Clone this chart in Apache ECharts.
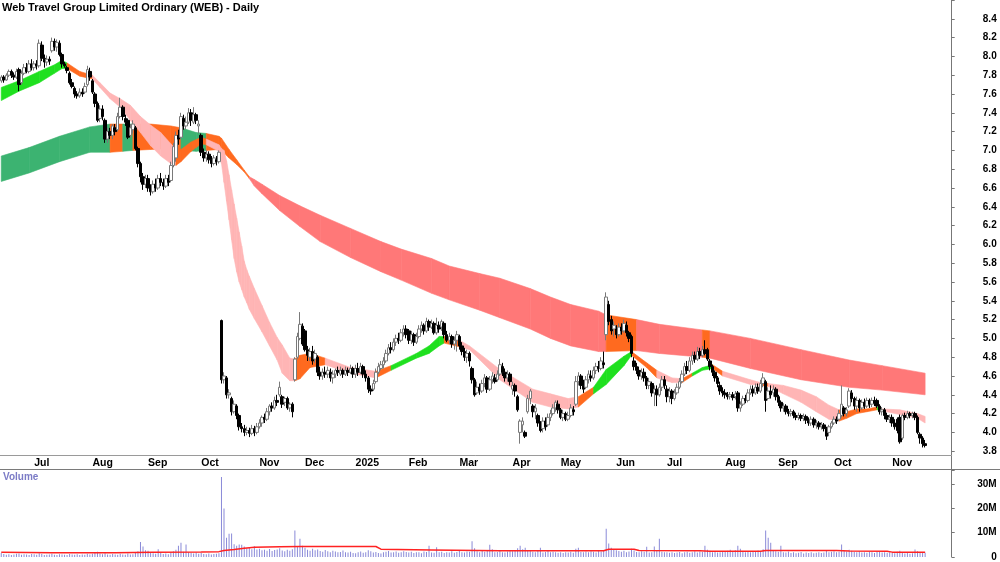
<!DOCTYPE html>
<html>
<head>
<meta charset="utf-8">
<title>WEB - Daily</title>
<script src="https://cdn.jsdelivr.net/npm/echarts@6.0.0/dist/echarts.min.js"></script>
<style>
  html, body { margin: 0; padding: 0; background: #fff; }
  #chart { width: 1000px; height: 562px; }
</style>
</head>
<body>
<div id="chart"></div>
<script>
// trading days per month, first month only partly shown
const monthLabels = ['Jun', 'Jul', 'Aug', 'Sep', 'Oct', 'Nov', 'Dec', '2025', 'Feb', 'Mar', 'Apr', 'May', 'Jun', 'Jul', 'Aug', 'Sep', 'Oct', 'Nov'];
const monthDays = [13, 23, 22, 21, 23, 18, 20, 21, 20, 21, 19, 22, 20, 23, 21, 22, 23, 14];
const padDays = 10;

// [open, close, low, high]
const candles = [
  // Jun 2024
  [7.74,7.78,7.72,7.80],[7.78,7.75,7.72,7.80],[7.75,7.80,7.74,7.82],[7.80,7.84,7.78,7.86],[7.84,7.80,7.77,7.86],[7.80,7.78,7.75,7.83],[7.78,7.84,7.76,7.87],[7.86,7.70,7.63,7.88],[7.72,7.82,7.70,7.85],[7.82,7.88,7.80,7.92],[7.88,7.84,7.82,7.93],[7.84,7.92,7.82,7.96],[7.92,7.88,7.85,7.97],
  // Jul
  [7.88,7.92,7.85,7.95],[7.92,7.90,7.86,7.96],[7.90,8.14,7.88,8.18],[8.12,7.98,7.95,8.16],[7.98,7.94,7.88,8.02],[7.94,7.97,7.90,8.01],[7.97,7.95,7.91,8.00],[8.06,8.16,8.04,8.20],[8.16,8.10,8.06,8.19],[8.10,8.15,8.05,8.18],[8.14,8.02,8.00,8.17],[8.02,7.92,7.88,8.04],[7.92,7.90,7.88,7.94],[7.88,7.85,7.82,7.90],[7.82,7.72,7.70,7.84],[7.72,7.68,7.66,7.76],[7.66,7.60,7.56,7.68],[7.60,7.58,7.55,7.63],[7.58,7.62,7.56,7.66],[7.62,7.60,7.57,7.66],[7.62,7.68,7.60,7.72],[7.70,7.86,7.68,7.90],[7.84,7.78,7.74,7.88],
  // Aug
  [7.74,7.62,7.60,7.76],[7.60,7.50,7.46,7.62],[7.50,7.32,7.30,7.52],[7.34,7.44,7.30,7.48],[7.44,7.36,7.32,7.48],[7.32,7.12,7.08,7.34],[7.12,7.20,7.08,7.24],[7.20,7.16,7.12,7.24],[7.16,7.26,7.12,7.28],[7.24,7.20,7.16,7.28],[7.22,7.36,7.20,7.40],[7.36,7.46,7.34,7.56],[7.46,7.36,7.32,7.48],[7.34,7.30,7.26,7.38],[7.32,7.14,7.12,7.34],[7.16,7.24,7.14,7.28],[7.22,7.28,7.18,7.32],[7.24,7.02,7.00,7.26],[7.02,6.86,6.82,7.04],[6.86,6.72,6.66,6.88],[6.72,6.64,6.58,6.76],[6.64,6.70,6.60,6.74],
  // Sep
  [6.70,6.60,6.56,6.74],[6.60,6.56,6.52,6.64],[6.56,6.64,6.54,6.68],[6.64,6.60,6.56,6.70],[6.60,6.70,6.58,6.74],[6.70,6.66,6.62,6.76],[6.66,6.62,6.58,6.70],[6.62,6.70,6.60,6.74],[6.70,6.66,6.62,6.74],[6.68,6.84,6.66,6.88],[6.84,7.04,6.82,7.08],[6.92,7.16,6.88,7.20],[7.16,7.12,7.06,7.22],[7.14,7.36,7.12,7.40],[7.34,7.26,7.22,7.38],[7.26,7.30,7.22,7.36],[7.30,7.40,7.28,7.45],[7.40,7.32,7.26,7.44],[7.30,7.38,7.28,7.46],[7.38,7.32,7.28,7.40],[7.26,7.28,7.18,7.32],
  // Oct
  [7.16,6.98,6.94,7.18],[6.98,6.92,6.88,7.02],[6.92,6.96,6.88,7.00],[6.96,6.90,6.86,6.99],[6.90,6.86,6.82,6.94],[6.86,6.92,6.84,6.95],[6.90,6.88,6.84,6.94],[6.88,6.98,6.86,7.00],[5.19,4.56,4.52,5.20],[4.56,4.60,4.52,4.64],[4.58,4.40,4.36,4.60],[4.40,4.42,4.36,4.46],[4.36,4.22,4.18,4.38],[4.22,4.30,4.20,4.34],[4.28,4.18,4.14,4.30],[4.18,4.06,4.02,4.20],[4.06,4.04,4.00,4.10],[4.04,4.00,3.96,4.08],[4.00,4.02,3.97,4.06],[4.02,3.99,3.95,4.05],[3.99,4.04,3.97,4.08],[4.04,4.00,3.96,4.07],[4.00,4.06,3.98,4.10],
  // Nov
  [4.06,4.10,4.04,4.14],[4.10,4.16,4.06,4.18],[4.16,4.14,4.10,4.20],[4.14,4.22,4.12,4.26],[4.22,4.28,4.18,4.30],[4.28,4.26,4.22,4.32],[4.26,4.34,4.24,4.38],[4.34,4.32,4.28,4.40],[4.40,4.48,4.38,4.54],[4.38,4.30,4.26,4.40],[4.32,4.36,4.28,4.38],[4.36,4.26,4.24,4.38],[4.26,4.30,4.22,4.32],[4.30,4.22,4.16,4.32],[4.56,4.78,4.54,4.80],[4.80,5.02,4.78,5.06],[5.00,5.15,4.98,5.28],[5.13,4.94,4.92,5.16],
  // Dec
  [5.08,4.88,4.86,5.10],[4.88,4.82,4.76,4.92],[4.80,4.86,4.76,4.90],[4.86,4.76,4.72,4.92],[4.78,4.84,4.74,4.88],[4.80,4.64,4.60,4.82],[4.64,4.60,4.56,4.70],[4.60,4.64,4.56,4.68],[4.64,4.62,4.58,4.70],[4.62,4.66,4.58,4.70],[4.64,4.58,4.54,4.68],[4.58,4.62,4.52,4.66],[4.62,4.66,4.58,4.68],[4.66,4.64,4.60,4.70],[4.62,4.66,4.60,4.70],[4.66,4.62,4.58,4.68],[4.62,4.66,4.60,4.70],[4.66,4.64,4.60,4.69],[4.64,4.68,4.62,4.72],[4.68,4.62,4.58,4.70],
  // Jan 2025
  [4.62,4.68,4.58,4.72],[4.68,4.64,4.60,4.74],[4.64,4.70,4.62,4.74],[4.70,4.62,4.58,4.72],[4.62,4.58,4.54,4.66],[4.58,4.46,4.42,4.60],[4.46,4.44,4.40,4.50],[4.46,4.52,4.44,4.56],[4.54,4.64,4.52,4.68],[4.64,4.70,4.62,4.74],[4.68,4.72,4.66,4.76],[4.72,4.76,4.68,4.80],[4.76,4.84,4.74,4.88],[4.84,4.90,4.82,4.94],[4.90,4.88,4.84,4.96],[4.88,4.96,4.86,5.00],[4.96,5.00,4.92,5.04],[5.00,4.98,4.94,5.06],[4.98,5.06,4.96,5.10],[5.06,5.10,5.02,5.14],[5.10,5.04,5.00,5.14],
  // Feb
  [5.08,4.98,4.94,5.10],[4.98,5.04,4.94,5.08],[5.04,4.96,4.92,5.06],[4.96,5.02,4.94,5.06],[5.02,5.10,5.00,5.14],[5.10,5.14,5.06,5.18],[5.14,5.08,5.04,5.16],[5.08,5.18,5.06,5.22],[5.18,5.12,5.08,5.20],[5.12,5.16,5.10,5.20],[5.16,5.06,5.04,5.18],[5.06,5.14,5.04,5.22],[5.14,5.10,5.06,5.18],[5.12,5.18,5.08,5.20],[5.16,5.04,5.00,5.18],[5.04,4.98,4.96,5.08],[4.98,5.02,4.94,5.06],[5.02,4.94,4.90,5.04],[4.94,4.98,4.88,5.02],[4.98,5.04,4.86,5.08],
  // Mar
  [5.02,4.92,4.88,5.04],[4.92,4.86,4.82,4.96],[4.86,4.80,4.76,4.90],[4.80,4.84,4.74,4.88],[4.84,4.76,4.70,4.86],[4.68,4.56,4.52,4.70],[4.56,4.40,4.38,4.58],[4.42,4.48,4.40,4.54],[4.48,4.44,4.40,4.52],[4.44,4.52,4.42,4.56],[4.52,4.58,4.48,4.62],[4.58,4.46,4.42,4.60],[4.46,4.56,4.44,4.60],[4.56,4.60,4.52,4.64],[4.58,4.54,4.52,4.62],[4.56,4.62,4.54,4.66],[4.62,4.72,4.60,4.78],[4.70,4.64,4.60,4.74],[4.64,4.58,4.54,4.68],[4.58,4.62,4.54,4.66],[4.62,4.54,4.50,4.64],
  // Apr
  [4.46,4.50,4.40,4.54],[4.50,4.44,4.38,4.52],[4.38,4.24,4.22,4.40],[4.00,4.12,3.88,4.14],[4.08,4.12,4.00,4.16],[4.00,3.96,3.94,4.02],[4.22,4.36,4.20,4.40],[4.36,4.44,4.30,4.46],[4.28,4.22,4.16,4.30],[4.22,4.26,4.14,4.30],[4.18,4.10,4.06,4.20],[4.10,4.02,4.00,4.12],[4.04,4.12,4.00,4.16],[4.12,4.06,4.02,4.16],[4.08,4.16,4.06,4.20],[4.16,4.20,4.12,4.24],[4.20,4.26,4.18,4.30],[4.26,4.32,4.22,4.34],[4.30,4.24,4.20,4.34],
  // May
  [4.24,4.16,4.14,4.26],[4.16,4.20,4.12,4.24],[4.20,4.14,4.12,4.22],[4.14,4.18,4.12,4.22],[4.18,4.26,4.16,4.30],[4.24,4.22,4.18,4.28],[4.30,4.54,4.28,4.60],[4.54,4.60,4.50,4.64],[4.60,4.50,4.46,4.62],[4.50,4.46,4.42,4.56],[4.48,4.56,4.46,4.60],[4.56,4.62,4.52,4.66],[4.60,4.58,4.54,4.66],[4.58,4.66,4.56,4.70],[4.66,4.70,4.62,4.74],[4.70,4.68,4.64,4.76],[4.68,4.76,4.66,4.80],[4.74,4.72,4.68,4.86],[5.04,5.44,4.98,5.49],[5.36,5.18,5.14,5.40],[5.20,5.08,5.04,5.24],[5.10,5.14,5.02,5.18],
  // Jun
  [5.10,5.04,5.00,5.14],[5.04,5.12,5.02,5.16],[5.12,5.08,5.04,5.16],[5.08,5.16,5.06,5.20],[5.14,5.06,5.02,5.18],[5.06,5.00,4.96,5.08],[5.02,4.84,4.80,5.04],[4.76,4.70,4.66,4.80],[4.70,4.66,4.62,4.74],[4.66,4.60,4.56,4.70],[4.60,4.64,4.56,4.68],[4.64,4.58,4.54,4.68],[4.58,4.50,4.46,4.60],[4.50,4.54,4.46,4.58],[4.52,4.42,4.38,4.54],[4.42,4.46,4.28,4.50],[4.46,4.40,4.28,4.50],[4.40,4.48,4.38,4.52],[4.48,4.56,4.44,4.60],[4.56,4.50,4.46,4.60],
  // Jul
  [4.46,4.38,4.32,4.50],[4.38,4.44,4.32,4.48],[4.44,4.36,4.30,4.46],[4.36,4.42,4.34,4.46],[4.42,4.48,4.40,4.52],[4.48,4.54,4.46,4.58],[4.54,4.62,4.52,4.66],[4.62,4.70,4.60,4.74],[4.70,4.66,4.62,4.76],[4.66,4.76,4.64,4.80],[4.76,4.82,4.72,4.86],[4.82,4.78,4.74,4.86],[4.78,4.86,4.76,4.91],[4.86,4.82,4.78,4.90],[4.82,4.88,4.80,4.92],[4.88,4.84,4.82,4.98],[4.88,4.78,4.76,4.90],[4.76,4.70,4.66,4.78],[4.70,4.64,4.60,4.72],[4.64,4.58,4.54,4.66],[4.58,4.52,4.48,4.60],[4.50,4.44,4.40,4.54],[4.44,4.42,4.38,4.48],
  // Aug
  [4.42,4.40,4.36,4.46],[4.40,4.38,4.35,4.43],[4.38,4.40,4.35,4.43],[4.40,4.37,4.34,4.43],[4.38,4.41,4.35,4.44],[4.42,4.26,4.22,4.44],[4.26,4.30,4.22,4.33],[4.30,4.36,4.28,4.39],[4.36,4.34,4.31,4.40],[4.34,4.42,4.32,4.46],[4.42,4.46,4.40,4.50],[4.46,4.42,4.38,4.50],[4.42,4.48,4.40,4.52],[4.48,4.44,4.41,4.52],[4.44,4.52,4.42,4.56],[4.52,4.58,4.48,4.63],[4.54,4.34,4.22,4.56],[4.36,4.44,4.34,4.48],[4.44,4.40,4.36,4.50],[4.42,4.46,4.38,4.50],[4.46,4.38,4.34,4.48],
  // Sep
  [4.38,4.32,4.28,4.40],[4.32,4.26,4.22,4.34],[4.26,4.28,4.22,4.31],[4.28,4.22,4.19,4.30],[4.22,4.20,4.17,4.25],[4.20,4.22,4.17,4.25],[4.22,4.18,4.15,4.24],[4.18,4.16,4.13,4.21],[4.16,4.18,4.13,4.21],[4.18,4.15,4.12,4.20],[4.15,4.17,4.12,4.20],[4.17,4.13,4.09,4.19],[4.13,4.10,4.07,4.16],[4.10,4.14,4.07,4.17],[4.14,4.08,4.05,4.16],[4.08,4.10,4.04,4.13],[4.10,4.06,4.03,4.12],[4.06,4.08,4.03,4.11],[4.08,4.04,4.01,4.10],[4.04,3.96,3.92,4.06],[4.00,4.06,3.96,4.08],[4.06,4.10,4.04,4.12],
  // Oct
  [4.10,4.14,4.08,4.17],[4.14,4.12,4.09,4.17],[4.14,4.20,4.12,4.24],[4.18,4.30,4.16,4.50],[4.26,4.20,4.17,4.28],[4.20,4.24,4.17,4.27],[4.28,4.44,4.26,4.47],[4.42,4.36,4.32,4.45],[4.36,4.28,4.24,4.38],[4.28,4.34,4.22,4.38],[4.34,4.26,4.22,4.36],[4.26,4.32,4.24,4.35],[4.32,4.28,4.25,4.36],[4.28,4.34,4.26,4.37],[4.34,4.30,4.26,4.36],[4.30,4.34,4.27,4.37],[4.34,4.31,4.28,4.38],[4.34,4.28,4.26,4.36],[4.28,4.22,4.19,4.30],[4.22,4.24,4.18,4.27],[4.24,4.18,4.14,4.26],[4.18,4.14,4.11,4.21],[4.14,4.16,4.10,4.19],
  // Nov
  [4.16,4.10,4.06,4.19],[4.10,4.06,4.03,4.14],[4.14,4.02,3.99,4.16],[4.16,3.90,3.88,4.19],[3.94,4.18,3.92,4.20],[4.18,4.16,4.13,4.21],[4.16,4.20,4.14,4.23],[4.20,4.18,4.15,4.22],[4.18,4.20,4.15,4.22],[4.20,4.16,4.13,4.22],[4.16,4.00,3.98,4.18],[3.98,3.94,3.88,4.00],[3.94,3.88,3.84,3.96],[3.88,3.86,3.84,3.92]
];

// daily volume, millions
const volumes = [
  1.6,1.2,0.9,1.1,0.8,1.0,1.3,1.4,0.9,1.1,1.0,0.8,1.2,
  1.1,0.9,1.5,1.2,0.8,0.9,1.0,1.3,0.9,0.8,1.1,1.0,0.9,0.8,1.2,1.0,0.9,1.1,0.8,1.0,0.9,1.3,1.0,
  1.3,2.0,2.2,1.4,1.1,1.5,1.0,0.9,1.2,1.0,0.9,1.3,1.0,0.9,1.4,1.0,1.1,1.8,2.4,6.2,4.3,2.8,
  2.6,1.8,1.5,1.3,3.2,1.6,1.2,1.4,1.1,1.9,2.4,3.0,4.6,5.9,2.2,5.1,2.0,1.6,1.4,1.8,1.3,
  1.6,1.2,1.1,1.4,1.0,1.2,1.3,1.5,32.8,19.9,7.9,9.5,9.6,5.2,4.6,5.1,5.0,4.3,3.6,3.9,3.2,4.4,3.1,
  3.4,2.8,3.0,2.6,3.3,2.5,2.9,3.1,3.6,2.7,2.4,3.0,2.6,3.2,10.9,4.4,7.5,4.6,
  3.8,3.0,2.6,3.4,2.8,3.1,2.5,2.2,2.9,2.4,2.0,2.6,2.3,1.9,2.1,2.7,2.0,1.8,2.2,1.6,
  1.5,1.9,2.3,1.7,2.0,2.8,2.4,1.8,2.1,1.6,1.4,1.9,2.2,2.5,1.8,2.0,2.3,1.7,1.9,2.4,2.1,
  1.8,2.2,1.6,1.9,2.0,1.5,2.3,2.1,4.6,1.8,1.7,4.0,1.9,2.2,1.6,2.0,1.8,2.4,1.7,2.1,
  2.6,2.0,1.8,2.3,2.2,6.5,3.6,2.4,2.0,2.8,2.2,2.5,5.0,3.2,1.9,2.1,2.6,2.0,1.8,2.3,2.7,
  2.4,2.8,3.6,4.6,3.2,3.8,2.9,2.6,2.2,2.0,2.5,3.8,1.8,2.1,2.6,1.9,2.2,2.0,1.7,
  1.9,1.6,2.0,1.8,2.2,1.7,3.4,3.8,2.1,1.9,2.3,2.0,2.4,2.2,1.8,2.6,2.3,2.9,11.6,5.5,3.8,3.0,
  2.8,2.5,2.2,2.6,2.0,2.3,3.4,2.7,2.1,1.9,2.4,2.2,4.2,1.8,2.0,4.3,2.6,7.5,2.2,1.9,
  2.0,1.7,1.9,1.6,1.8,2.1,1.5,1.9,2.2,1.7,2.0,2.4,1.8,2.3,2.1,4.6,3.0,2.6,1.9,2.2,1.8,2.0,2.3,
  2.1,2.6,3.0,2.4,2.8,4.6,3.4,2.2,2.0,2.5,1.9,2.3,2.1,2.7,2.2,3.2,10.9,7.9,5.9,2.6,2.4,
  2.2,4.6,2.0,1.8,2.3,1.6,1.9,1.5,1.7,2.1,1.4,1.8,1.6,1.9,1.5,1.7,2.0,1.6,1.8,2.6,1.9,2.2,
  2.4,2.0,2.2,5.1,2.8,2.3,3.0,2.6,2.1,1.9,2.4,1.8,2.0,1.7,2.2,1.9,1.6,2.1,2.3,1.8,2.0,1.7,1.9,
  1.8,1.5,2.2,2.6,1.9,1.4,1.6,1.3,1.5,3.1,2.4,2.0,1.8,1.7
];

// volume average line: [day, millions]
const volumeAvg = [[0,2.0],[20,1.7],[45,1.7],[60,1.9],[79,2.1],[86,2.2],[88,2.7],[92,3.1],[96,3.6],[100,4.0],[110,4.2],[118,4.3],[148,4.3],[150,3.2],[170,2.9],[197,2.6],[238,2.6],[240,3.2],[250,3.2],[252,2.7],[276,2.6],[280,2.4],[300,2.4],[302,2.7],[330,2.7],[335,2.5],[350,2.4],[352,2.0],[365,2.0]];

// band edges: [day, upper, lower, state of the stretch that starts here]
const fastBand = [
  [0,7.67,7.53,'up'],[7,7.74,7.63,'up'],[15,7.84,7.72,'up'],[21,7.91,7.82,'up'],[24,7.96,7.87,'up'],
  [26,7.93,7.87,'mid'],[31,7.84,7.79,'mid'],
  [36,7.80,7.76,'down'],[39,7.72,7.67,'down'],[43,7.61,7.55,'down'],[47,7.55,7.46,'down'],[51,7.48,7.32,'down'],[55,7.36,7.19,'down'],[59,7.27,7.05,'down'],[63,7.19,6.94,'down'],[67,7.07,6.86,'down'],
  [69,7.01,6.84,'mid'],[71,7.01,6.88,'mid'],[75,7.09,6.99,'mid'],[79,7.14,7.07,'mid'],
  [81,7.12,7.06,'down'],[86,7.06,6.99,'down'],[87,7.02,6.86,'down'],[88,7.00,6.66,'down'],[89,6.89,6.46,'down'],[90,6.74,6.26,'down'],[91,6.58,6.05,'down'],[92,6.43,5.85,'down'],[93,6.28,5.71,'down'],[94,6.13,5.60,'down'],[95,5.98,5.52,'down'],[96,5.82,5.44,'down'],[97,5.73,5.38,'down'],[98,5.66,5.31,'down'],[100,5.53,5.21,'down'],[103,5.35,5.07,'down'],[106,5.17,4.92,'down'],[109,5.01,4.77,'down'],[111,4.93,4.63,'down'],[114,4.79,4.55,'down'],
  [116,4.78,4.55,'mid'],[118,4.82,4.57,'mid'],[122,4.84,4.69,'mid'],
  [128,4.79,4.72,'down'],[138,4.69,4.63,'down'],
  [148,4.65,4.58,'mid'],
  [154,4.71,4.66,'up'],[164,4.84,4.79,'up'],[169,4.92,4.84,'up'],[173,5.02,4.92,'up'],
  [175,5.02,4.95,'mid'],
  [181,4.98,4.91,'down'],[185,4.92,4.88,'down'],[197,4.67,4.56,'down'],[210,4.46,4.32,'down'],[217,4.41,4.27,'down'],[224,4.36,4.25,'down'],
  [228,4.38,4.27,'mid'],
  [234,4.48,4.41,'up'],[239,4.67,4.51,'up'],[246,4.81,4.71,'up'],
  [249,4.86,4.82,'mid'],[255,4.74,4.69,'mid'],
  [259,4.66,4.58,'down'],[265,4.58,4.53,'down'],
  [269,4.57,4.53,'mid'],
  [273,4.63,4.60,'up'],[277,4.69,4.66,'up'],
  [281,4.72,4.68,'mid'],
  [285,4.65,4.60,'down'],[296,4.56,4.51,'down'],
  [300,4.53,4.50,'mid'],
  [303,4.52,4.49,'down'],[309,4.50,4.41,'down'],[316,4.45,4.32,'down'],[322,4.38,4.22,'down'],[327,4.29,4.14,'down'],
  [331,4.24,4.12,'mid'],[334,4.22,4.15,'mid'],[338,4.25,4.20,'mid'],[342,4.25,4.22,'mid'],
  [346,4.27,4.24,'up'],
  [348,4.25,4.23,'down'],[355,4.24,4.19,'down'],[362,4.20,4.15,'down'],[365,4.17,4.10,'down']
];

const slowBand = [
  [0,6.94,6.67,'up'],[11,7.03,6.76,'up'],[23,7.15,6.88,'up'],[35,7.25,6.98,'up'],
  [43,7.28,6.98,'mid'],
  [48,7.28,6.99,'up'],
  [52,7.28,7.00,'mid'],[59,7.28,7.01,'mid'],[67,7.26,7.02,'mid'],
  [71,7.24,7.00,'up'],[77,7.19,6.99,'up'],
  [81,7.18,7.00,'mid'],[86,7.15,7.01,'mid'],[87,7.13,7.00,'mid'],[90,7.01,6.92,'mid'],[93,6.90,6.85,'mid'],[96,6.79,6.77,'mid'],
  [98,6.72,6.70,'down'],[100,6.69,6.62,'down'],[103,6.64,6.54,'down'],[110,6.52,6.36,'down'],[118,6.41,6.19,'down'],[126,6.31,6.03,'down'],[138,6.17,5.86,'down'],[150,6.03,5.71,'down'],[158,5.95,5.62,'down'],[170,5.85,5.48,'down'],[177,5.77,5.41,'down'],[189,5.69,5.30,'down'],[197,5.64,5.22,'down'],[209,5.53,5.10,'down'],[217,5.44,5.00,'down'],[225,5.36,4.92,'down'],[236,5.29,4.86,'down'],
  [239,5.25,4.86,'mid'],
  [251,5.20,4.87,'down'],[260,5.15,4.84,'down'],
  [277,5.09,4.80,'mid'],
  [280,5.08,4.79,'down'],[296,5.00,4.68,'down'],[316,4.88,4.56,'down'],[335,4.77,4.48,'down'],[348,4.71,4.45,'down'],[365,4.63,4.40,'down']
];

const fontFamily = 'Arial, "Liberation Sans", sans-serif';
const fastColors = { up: '#1fe01f', mid: '#ff6a1f', down: '#ffb5b5' };
const slowColors = { up: '#3cb371', mid: '#ff6a1f', down: '#ff7878' };

// category axis: one slot per trading day, plus empty room on the right
const categories = [];
const monthStart = {};
monthLabels.forEach((m, k) => {
  for (let d = 0; d < monthDays[k]; d++) {
    if (d === 0 && k > 0) monthStart[categories.length] = m;
    categories.push(k + '-' + m + '-' + (d + 1));
  }
});
for (let d = 0; d < padDays; d++) categories.push('pad-' + d);

const isMonthStart = (i) => monthStart[i] !== undefined;

function bandSeries(rows, palette, z) {
  const segs = [];
  for (let k = 0; k < rows.length - 1; k++) {
    const a = rows[k], b = rows[k + 1];
    segs.push([a[0], a[1], a[2], b[0], b[1], b[2]]);
  }
  return {
    type: 'custom',
    xAxisIndex: 0,
    yAxisIndex: 0,
    z: z,
    silent: true,
    data: segs,
    encode: { x: [0, 3], y: [1, 2, 4, 5] },
    renderItem: (params, api) => {
      const a1 = api.coord([api.value(0), api.value(1)]);
      const a2 = api.coord([api.value(0), api.value(2)]);
      const b1 = api.coord([api.value(3), api.value(4)]);
      const b2 = api.coord([api.value(3), api.value(5)]);
      const fill = palette[rows[params.dataIndex][3]];
      return {
        type: 'polygon',
        shape: { points: [a1, b1, b2, a2] },
        style: { fill: fill, stroke: fill, lineWidth: 0.6 }
      };
    }
  };
}

const chart = echarts.init(document.getElementById('chart'), null, { renderer: 'canvas' });

const option = {
  animation: false,
  backgroundColor: '#fff',
  title: [
    {
      text: 'Web Travel Group Limited Ordinary (WEB) - Daily',
      left: 2, top: 2, padding: 0,
      textStyle: { fontSize: 11, fontWeight: 'bold', color: '#000', fontFamily: fontFamily }
    },
    {
      text: 'Volume',
      left: 3, top: 472, padding: 0,
      textStyle: { fontSize: 10, fontWeight: 'bold', color: '#7b7bc6', fontFamily: fontFamily }
    }
  ],
  grid: [
    { left: 0, right: 48.3, top: -13.33, height: 483.33 },
    { left: 0, right: 48.3, top: 0, height: 455 },
    { left: 0, right: 48.3, top: 469.3, height: 89.4 }
  ],
  xAxis: [
    { gridIndex: 0, type: 'category', data: categories, show: false },
    {
      gridIndex: 1, type: 'category', data: categories,
      axisLine: { lineStyle: { color: '#9a9a9a' } },
      axisTick: { interval: isMonthStart, length: 3, lineStyle: { color: '#9a9a9a' } },
      axisLabel: {
        interval: isMonthStart,
        formatter: (v, i) => monthStart[i] || '',
        align: 'left', margin: 3,
        fontSize: 10.5, fontWeight: 'bold', color: '#000', fontFamily: fontFamily
      },
      splitLine: { show: false }
    },
    { gridIndex: 2, type: 'category', data: categories, show: false }
  ],
  yAxis: [
    {
      gridIndex: 0, type: 'value', position: 'right',
      min: 3.6, max: 8.6, interval: 0.2,
      splitLine: { show: false },
      axisLine: { show: true, lineStyle: { color: '#777' } },
      axisTick: { show: true, length: 3, lineStyle: { color: '#777' } },
      axisLabel: {
        align: 'right', margin: 45,
        fontSize: 10, fontWeight: 'bold', color: '#000', fontFamily: fontFamily,
        formatter: (v) => (v < 3.7 || v > 8.5) ? '' : v.toFixed(1)
      }
    },
    { gridIndex: 1, type: 'value', show: false },
    {
      gridIndex: 2, type: 'value', position: 'right',
      min: 0, max: 36, interval: 10,
      splitLine: { show: false },
      axisLine: { show: true, lineStyle: { color: '#777' } },
      axisTick: { show: true, length: 3, lineStyle: { color: '#777' } },
      axisLabel: {
        align: 'right', margin: 45,
        fontSize: 10, fontWeight: 'bold', color: '#000', fontFamily: fontFamily,
        formatter: (v) => v % 10 !== 0 ? '' : (v === 0 ? '0' : v + 'M')
      }
    }
  ],
  graphic: [
    {
      type: 'line', silent: true,
      shape: { x1: 0, y1: 469.5, x2: 1000, y2: 469.5 },
      style: { stroke: '#7a7a7a', lineWidth: 1 }
    }
  ],
  series: [
    bandSeries(slowBand, slowColors, 1),
    bandSeries(fastBand, fastColors, 2),
    {
      type: 'candlestick',
      xAxisIndex: 0, yAxisIndex: 0,
      z: 5,
      barWidth: 3,
      data: candles,
      itemStyle: {
        color: '#ffffff', color0: '#000000',
        borderColor: '#7a7a7a', borderColor0: '#000000',
        borderColorDoji: '#7a7a7a',
        borderWidth: 1
      }
    },
    {
      type: 'bar',
      xAxisIndex: 2, yAxisIndex: 2,
      barWidth: 1,
      data: volumes,
      itemStyle: { color: '#8a8ad8' },
      z: 2
    },
    {
      type: 'line',
      xAxisIndex: 2, yAxisIndex: 2,
      data: volumeAvg,
      symbol: 'none',
      lineStyle: { color: '#ff2222', width: 1.5 },
      z: 3
    }
  ]
};

chart.setOption(option);
window.addEventListener('resize', () => chart.resize());
</script>
</body>
</html>
